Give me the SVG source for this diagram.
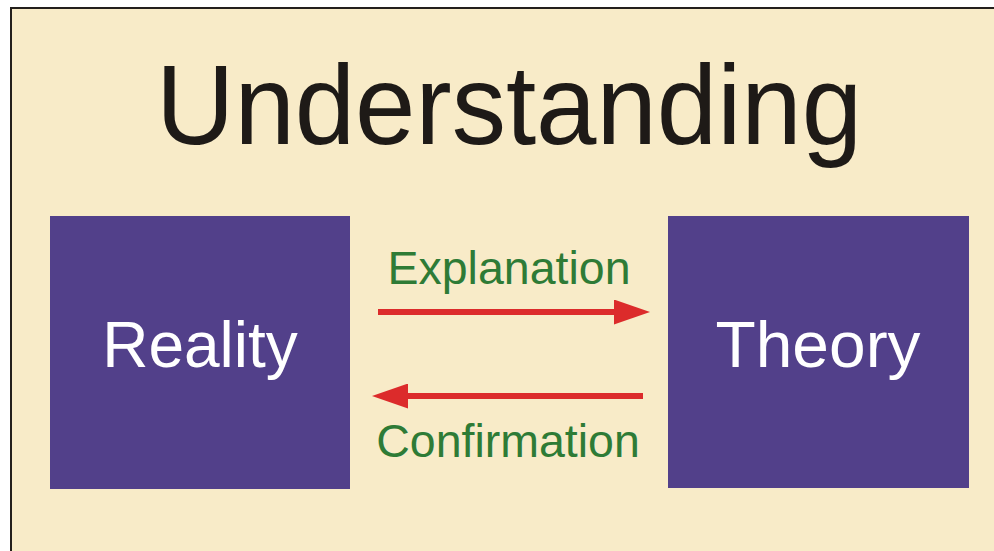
<svg xmlns="http://www.w3.org/2000/svg" width="994" height="551" viewBox="0 0 994 551">
<defs>
<style>
.box{fill:#52408A;}
.lbl{font-family:"Liberation Sans",Arial,sans-serif;fill:#ffffff;font-size:64px;text-anchor:middle;}
.elbl{font-family:"Liberation Sans",Arial,sans-serif;fill:#2E7B36;font-size:46.5px;text-anchor:middle;}
.conn{stroke:#DC2B2B;stroke-width:6;fill:none;}
</style>
<marker id="ah" viewBox="0 0 36 25" refX="2" refY="12.5" markerWidth="36" markerHeight="25" markerUnits="userSpaceOnUse" orient="auto">
<path d="M0,0 L36,12.5 L0,25 Z" fill="#DC2B2B"/>
</marker>
</defs>
<rect x="0" y="0" width="994" height="551" fill="#ffffff"/>
<rect x="11" y="8" width="983" height="543" fill="#F8EBC8"/>
<path d="M11,551 L11,8 L994,8" fill="none" stroke="#231F1C" stroke-width="2"/>
<text x="509" y="144" font-family="'Liberation Sans',Arial,sans-serif" font-size="113" fill="#1E1A17" text-anchor="middle" textLength="706" lengthAdjust="spacingAndGlyphs">Understanding</text>
<g id="reality">
<rect class="box" x="50" y="216" width="300" height="273"/>
<text class="lbl" x="200" y="367">Reality</text>
</g>
<g id="theory">
<rect class="box" x="668" y="216" width="301" height="272"/>
<text class="lbl" x="818" y="367" textLength="205" lengthAdjust="spacingAndGlyphs">Theory</text>
</g>
<g id="connectors">
<line class="conn" x1="378" y1="312" x2="616" y2="312" marker-end="url(#ah)"/>
<line class="conn" x1="643" y1="396" x2="406" y2="396" marker-end="url(#ah)"/>
<text class="elbl" x="509" y="284">Explanation</text>
<text class="elbl" x="508" y="457">Confirmation</text>
</g>
</svg>
